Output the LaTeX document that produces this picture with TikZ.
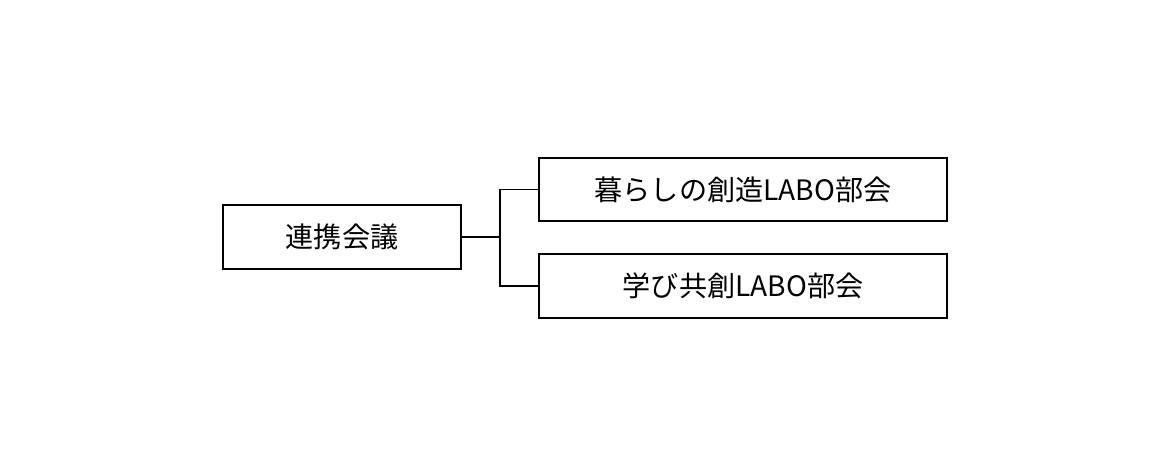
\documentclass[tikz,border=0pt]{standalone}
\usepackage{fontspec}
\setmainfont{Noto Sans CJK JP}
\usetikzlibrary{positioning}

\begin{document}
\begin{tikzpicture}[
    x=0.02cm, y=-0.02cm,
    node distance = 0.62cm and 1.56cm,
    box/.style   = {rectangle, draw, line width=1.1pt, minimum height=1.27cm,
                    inner sep=0pt, align=center, font=\fontsize{16}{19}\selectfont},
    branch/.style = {line width=0.75pt},
  ]
  \useasboundingbox (0,0) rectangle (1170,476);

  \node[box, minimum width=4.76cm] (kaigi) at (342,237) {連携会議};

  \node[box, minimum width=8.16cm] (kurashi) at (743,189.5) {暮らしの創造LABO部会};
  \node[box, minimum width=8.16cm, below=of kurashi] (manabi) {学び共創LABO部会};

  \coordinate (split) at (500,237);
  \draw[branch] (kaigi.east) -- (split);
  \draw[branch] (split) |- (kurashi.west);
  \draw[branch] (split) |- (manabi.west);
\end{tikzpicture}
\end{document}
